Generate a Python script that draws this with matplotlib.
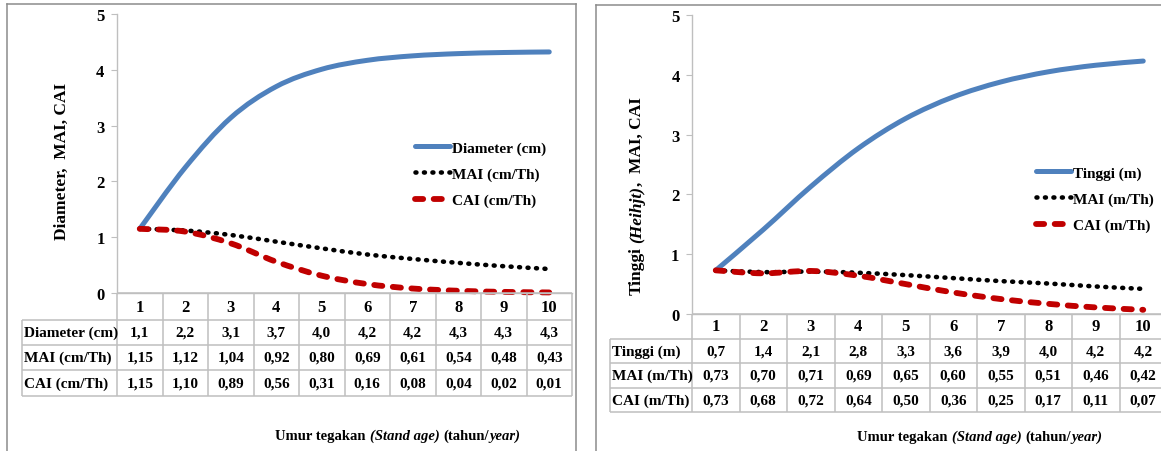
import matplotlib
matplotlib.use('Agg')
import matplotlib.pyplot as plt
from matplotlib.path import Path
from matplotlib.patches import PathPatch
from matplotlib.lines import Line2D
from matplotlib.transforms import blended_transform_factory

# ---------------- data ----------------
ages = [1, 2, 3, 4, 5, 6, 7, 8, 9, 10]

diameter = [1.15, 2.25, 3.14, 3.70, 4.01, 4.17, 4.25, 4.29, 4.31, 4.32]
mai_d = [1.15, 1.12, 1.04, 0.92, 0.80, 0.69, 0.61, 0.54, 0.48, 0.43]
cai_d = [1.15, 1.10, 0.89, 0.56, 0.31, 0.16, 0.08, 0.04, 0.02, 0.01]
diameter_table = ['1,1', '2,2', '3,1', '3,7', '4,0', '4,2', '4,2', '4,3', '4,3', '4,3']

tinggi = [0.73, 1.41, 2.13, 2.77, 3.27, 3.63, 3.88, 4.05, 4.16, 4.23]
mai_t = [0.73, 0.70, 0.71, 0.69, 0.65, 0.60, 0.55, 0.51, 0.46, 0.42]
cai_t = [0.73, 0.68, 0.72, 0.64, 0.50, 0.36, 0.25, 0.17, 0.11, 0.07]
tinggi_table = ['0,7', '1,4', '2,1', '2,8', '3,3', '3,6', '3,9', '4,0', '4,2', '4,2']

labels_d = ['Diameter (cm)', 'MAI (cm/Th)', 'CAI (cm/Th)']
labels_t = ['Tinggi (m)', 'MAI (m/Th)', 'CAI (m/Th)']
yticks = [0, 1, 2, 3, 4, 5]

# ---------------- style ----------------
plt.rcParams['font.family'] = ['Liberation Serif', 'DejaVu Serif']
plt.rcParams['font.weight'] = 'bold'

W, H = 1161, 452
BLUE = '#4F81BD'
RED = '#C00000'
GRID = '#BFBFBF'
BORDER = '#8C8C8C'
TXT = 11

def fx(p):
    return p / W

def fy(p):
    return 1 - p / H

def fmt2(v):
    return ('%.2f' % v).replace('.', ',')

fig = plt.figure(figsize=(W / 100, H / 100), dpi=100)

def smooth_path(xs, ys):
    pts = list(zip(xs, ys))
    n = len(pts)
    verts = [pts[0]]
    codes = [Path.MOVETO]
    for i in range(n - 1):
        p0 = pts[i - 1] if i > 0 else pts[i]
        p1 = pts[i]
        p2 = pts[i + 1]
        p3 = pts[i + 2] if i + 2 < n else pts[i + 1]
        c1 = (p1[0] + (p2[0] - p0[0]) / 6, p1[1] + (p2[1] - p0[1]) / 6)
        c2 = (p2[0] - (p3[0] - p1[0]) / 6, p2[1] - (p3[1] - p1[1]) / 6)
        verts += [c1, c2, p2]
        codes += [Path.CURVE4] * 3
    return Path(verts, codes)

STYLES = [
    dict(color=BLUE, lw=3.6, ls='-'),
    dict(color='black', lw=3.3, ls=(0, (0.2, 1.65))),
    dict(color=RED, lw=4.2, ls=(0, (1.4, 1.8))),
]

def panel(ax_px, series, names, table_rows, rows_px, label_left_px, xlabel_x, xlabel_y,
          legend_xy, right_edge_px):
    x0, x1, ytop, y0 = ax_px
    ax = fig.add_axes([fx(x0), fy(y0), fx(x1 - x0), (y0 - ytop) / H])
    ax.set_xlim(0.5, 10.5)
    ax.set_ylim(0, 5)
    for s in ['top', 'right']:
        ax.spines[s].set_visible(False)
    for s in ['left', 'bottom']:
        ax.spines[s].set_color(GRID)
        ax.spines[s].set_linewidth(1.0)
    ax.set_xticks([])
    ax.set_yticks(yticks)
    ax.set_yticklabels([str(t) for t in yticks])
    ax.tick_params(axis='y', length=4, color=GRID, pad=5, labelsize=12)
    ax.patch.set_alpha(0)

    handles = []
    for ys, st in zip(series, STYLES):
        patch = PathPatch(smooth_path(ages, ys), facecolor='none', edgecolor=st['color'],
                          lw=st['lw'], linestyle=st['ls'], capstyle='round',
                          joinstyle='round', transform=ax.transData, clip_on=False)
        ax.add_patch(patch)
        handles.append(Line2D([], [], color=st['color'], lw=st['lw'], linestyle=st['ls'],
                              dash_capstyle='round', solid_capstyle='round'))

    fig.legend(handles, names, loc='center left', bbox_to_anchor=(fx(legend_xy[0]), fy(legend_xy[1])),
               frameon=False, fontsize=TXT, handlelength=2.3, handletextpad=0.15,
               labelspacing=0.8, borderpad=0, borderaxespad=0)

    # ---- data table ----
    px_per_unit = (x1 - x0) / 10.0
    xl = 0.5 - (x0 - label_left_px) / px_per_unit
    xr = 0.5 + (right_edge_px - x0) / px_per_unit
    tr = blended_transform_factory(ax.transData, fig.transFigure)
    r0, r1, r2, r3, r4 = rows_px
    lk = dict(color=GRID, lw=1.1, transform=tr, clip_on=False, solid_capstyle='butt')
    ax.plot([0.5, xr], [fy(r0), fy(r0)], **lk)
    for r in [r1, r2, r3, r4]:
        ax.plot([xl, xr], [fy(r), fy(r)], **lk)
    for k in range(11):
        ax.plot([0.5 + k, 0.5 + k], [fy(r0), fy(r4)], **lk)
    ax.plot([xl, xl], [fy(r1), fy(r4)], **lk)
    for a in ages:
        ax.text(a, fy((r0 + r1) / 2), str(a), transform=tr, ha='center', va='center',
                fontsize=12, clip_on=False)
    edges = [r1, r2, r3, r4]
    for i, (name, vals) in enumerate(zip(names, table_rows)):
        yc = fy((edges[i] + edges[i + 1]) / 2)
        ax.text(xl + 2.0 / px_per_unit, yc, name, transform=tr, ha='left', va='center',
                fontsize=TXT, clip_on=False)
        for a, v in zip(ages, vals):
            ax.text(a, yc, v, transform=tr, ha='center', va='center', fontsize=TXT,
                    clip_on=False)

    # ---- x label (mixed upright / italic) ----
    parts = [('Umur tegakan', 'normal', 0), ('(Stand age)', 'italic', 3.0),
             ('(tahun/', 'normal', 3.0), ('year)', 'italic', 0)]
    prev = None
    for txt, style, gap in parts:
        if prev is None:
            prev = fig.text(fx(xlabel_x), fy(xlabel_y), txt, ha='left', va='bottom',
                            fontsize=10.5, style=style)
        else:
            prev = ax.annotate(txt, xy=(1, 0), xycoords=prev, xytext=(gap, 0),
                               textcoords='offset points', ha='left', va='bottom',
                               fontsize=10.5, style=style, annotation_clip=False)
    return ax

# ---------------- left panel ----------------
ax1 = panel((117, 572, 15, 294), [diameter, mai_d, cai_d], labels_d,
            [diameter_table, [fmt2(v) for v in mai_d], [fmt2(v) for v in cai_d]],
            (294, 321, 346, 371, 397), 22, 275, 443, (415, 175), 572)
fig.text(fx(62), fy(161), 'Diameter,  MAI, CAI', rotation=90, ha='center', va='center',
         fontsize=12.5)

# ---------------- right panel ----------------
ax2 = panel((692, 1167, 16, 315), [tinggi, mai_t, cai_t], labels_t,
            [tinggi_table, [fmt2(v) for v in mai_t], [fmt2(v) for v in cai_t]],
            (315, 340, 364, 389, 413), 610, 857, 444, (1036, 200), 1167)
t1 = fig.text(fx(637), fy(295), 'Tinggi', rotation=90, ha='center', va='bottom', fontsize=12.5)
t2 = ax2.annotate('(Heihjt)', xy=(0.5, 1), xycoords=t1, xytext=(0, 3.2),
                  textcoords='offset points', rotation=90, ha='center', va='bottom',
                  fontsize=12.5, style='italic', annotation_clip=False)
ax2.annotate(',  MAI, CAI', xy=(0.5, 1), xycoords=t2, xytext=(0, 0),
             textcoords='offset points', rotation=90, ha='center', va='bottom',
             fontsize=12.5, annotation_clip=False)

# ---------------- panel borders ----------------
bk = dict(color=BORDER, lw=1.1, transform=fig.transFigure)
fig.add_artist(Line2D([fx(7), fx(7)], [fy(5), fy(452)], **bk))
fig.add_artist(Line2D([fx(7), fx(576)], [fy(5), fy(5)], **bk))
fig.add_artist(Line2D([fx(576), fx(576)], [fy(5), fy(452)], **bk))
fig.add_artist(Line2D([fx(596), fx(596)], [fy(6), fy(452)], **bk))
fig.add_artist(Line2D([fx(596), fx(1161)], [fy(6), fy(6)], **bk))

fig.savefig('out.png', dpi=100)
